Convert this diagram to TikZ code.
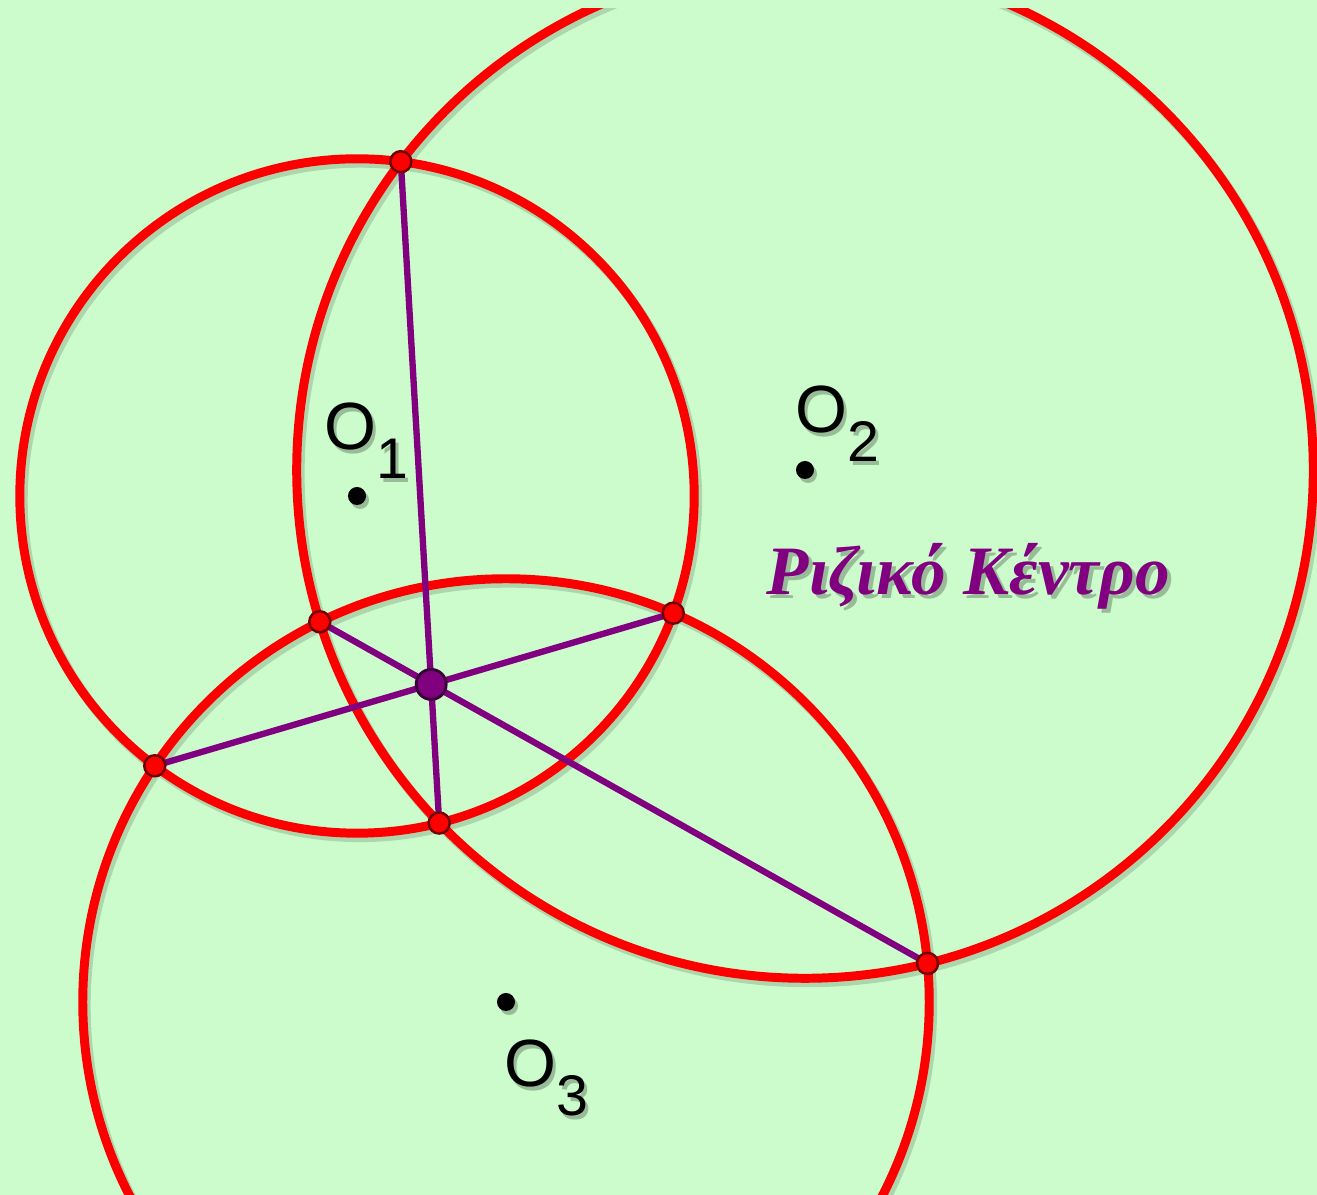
\documentclass[tikz,border=0pt]{standalone}
\usepackage{fontspec}
\setmainfont{Liberation Sans}
\newfontfamily\grserif{Liberation Serif}
\usetikzlibrary{intersections,positioning}
\definecolor{bggreen}{RGB}{204,252,204}
\definecolor{radpurple}{RGB}{128,0,128}
\definecolor{circred}{RGB}{252,0,0}
\newcommand{\olabel}[1]{\fontsize{19}{19}\selectfont O\raisebox{-8pt}{\fontsize{16.3}{16}\selectfont #1}}

\begin{document}
\begin{tikzpicture}[x=0.01cm,y=-0.01cm,
 circ/.style={draw=circred,line width=2.55pt},
 circshadow/.style={draw=black,opacity=0.15,line width=2.8pt},
 radline/.style={draw=radpurple,line width=1.8pt},
 ipt/.style={circle,fill=red,draw=red!45!black,line width=0.7pt,inner sep=0pt,minimum size=0.21cm},
 rcpt/.style={circle,fill=radpurple,draw=radpurple!45!black,line width=0.8pt,inner sep=0pt,minimum size=0.3cm},
 ctr/.style={circle,fill=black,inner sep=0pt,minimum size=0.18cm},
 lbl/.style={anchor=base west,inner sep=0pt},
 shadow/.style={black,opacity=0.25}]
\fill[bggreen] (0,0) rectangle (1317,1195);
\useasboundingbox (0,0) rectangle (1317,1195);
\coordinate (o1) at (357,496);
\coordinate (o2) at (805,470);
\coordinate (o3) at (506,1002);
\begin{scope}
\clip (0,9) rectangle (1317,1195);
\foreach \c/\r in {o1/3.37cm,o2/5.08cm,o3/4.23cm}
 \draw[circshadow] ([shift={(3,4)}]\c) circle[radius=\r];
\draw[circ,name path=c1] (o1) circle[radius=3.37cm];
\draw[circ,name path=c2] (o2) circle[radius=5.08cm];
\draw[circ,name path=c3] (o3) circle[radius=4.23cm];
\path[name intersections={of=c1 and c2,by={a1,a2}}];
\path[name intersections={of=c1 and c3,by={b1,b2}}];
\path[name intersections={of=c2 and c3,by={d1,d2}}];
\end{scope}
\draw[radline,name path=l1] (a1) -- (a2);
\draw[radline,name path=l2] (b1) -- (b2);
\draw[radline] (d1) -- (d2);
\path[name intersections={of=l1 and l2,by=rc}];
\foreach \p in {a1,a2,b1,b2,d1,d2}
 \node[ipt] (n\p) at (\p) {};
\node[rcpt] (rcdot) at (rc) {};
\foreach \c in {o1,o2,o3}{
 \node[ctr,shadow] at ([shift={(3,4)}]\c) {};
 \node[ctr] (\c dot) at (\c) {};
}
\node[lbl,shadow] at (327,454) {\olabel{1}};
\node[lbl] (o1lbl) at (324,450) {\olabel{1}};
\node[lbl,shadow] at (798,437) {\olabel{2}};
\node[lbl] (o2lbl) at (795,433) {\olabel{2}};
\node[lbl,shadow] at (507,1091) {\olabel{3}};
\node[lbl] (o3lbl) at (504,1087) {\olabel{3}};
\node[lbl,shadow,font=\grserif\bfseries\itshape\fontsize{19.7}{19}\selectfont] at (770,599) {Ριζικό Κέντρο};
\node[lbl,text=radpurple,font=\grserif\bfseries\itshape\fontsize{19.7}{19}\selectfont] (rctext) at (766,595) {Ριζικό Κέντρο};
\end{tikzpicture}
\end{document}
